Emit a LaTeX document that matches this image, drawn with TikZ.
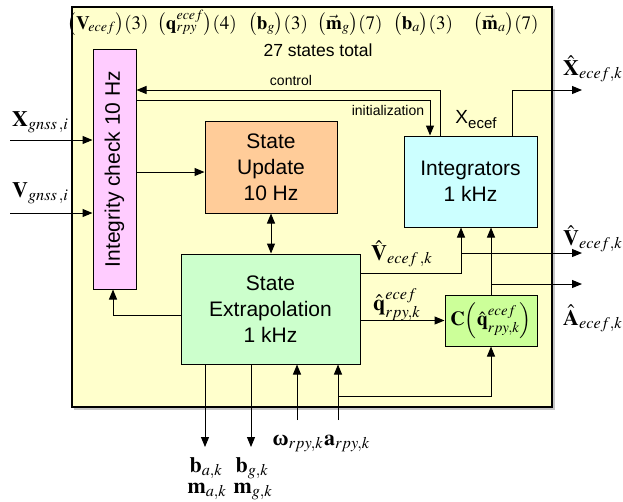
\documentclass[tikz,border=0pt]{standalone}
\usepackage{amsmath}
\usepackage{mathptmx}
\usepackage{bm}
\usepackage[no-math]{fontspec}
\setmainfont{Liberation Sans}
\newfontfamily\grkserif{Liberation Serif}
\usetikzlibrary{arrows.meta,calc}
\definecolor{outerY}{HTML}{FFFFCC}
\definecolor{pinkC}{HTML}{FFCCFF}
\definecolor{orangeC}{HTML}{FFCC99}
\definecolor{cyanC}{HTML}{CCFFFF}
\definecolor{greenC}{HTML}{CCFFCC}
\definecolor{limeC}{HTML}{CCFF99}
\tikzset{
  blk/.style={draw=black, line width=1pt, inner sep=0pt, align=center,
    font=\fontsize{21}{26}\selectfont},
  arr/.style={-{Triangle[length=10pt,width=8pt]}, line width=1pt},
  darr/.style={{Triangle[length=10pt,width=8pt]}-{Triangle[length=10pt,width=8pt]}, line width=1pt},
  mlab/.style={inner sep=0pt, anchor=base, font=\fontsize{22}{26}\selectfont},
  mlabw/.style={inner sep=0pt, anchor=base west, font=\fontsize{22}{26}\selectfont},
  toplab/.style={inner sep=0pt, anchor=base, font=\fontsize{19}{18}\selectfont},
  smalllab/.style={inner sep=0pt, font=\fontsize{14}{16}\selectfont},
}
\begin{document}
\begin{tikzpicture}[x=1pt,y=-1pt]
\useasboundingbox (0,0) rectangle (623,501);
% outer box with shadow
\fill[gray!45] (74,9) rectangle (554.5,409.5);
\draw[line width=2pt, fill=outerY] (72,7) rectangle (552,407);

% top row
\node[toplab] (t1) at (108,29) {$\bigl(\mathbf{V}_{\!ecef}\bigr)(3)$};
\node[toplab] (t2) at (197,29) {$\bigl(\mathbf{q}^{ecef}_{rpy}\bigr)(4)$};
\node[toplab] (t3) at (278,29) {$\bigl(\mathbf{b}_{g}\bigr)(3)$};
\node[toplab] (t4) at (350,29) {$\bigl(\vec{\mathbf{m}}_{g}\bigr)(7)$};
\node[toplab] (t5) at (423,29) {$\bigl(\mathbf{b}_{a}\bigr)(3)$};
\node[toplab] (t6) at (506,29) {$\bigl(\vec{\mathbf{m}}_{a}\bigr)(7)$};
\node[inner sep=0pt, font=\fontsize{17.5}{20}\selectfont] (tot) at (318,50) {27 states total};

% blocks
\node[blk, fill=pinkC, minimum width=43pt, minimum height=240pt] (ic) at (114.5,169)
  {\rotatebox{90}{Integrity check 10 Hz}};
\node[blk, fill=orangeC, minimum width=132pt, minimum height=92pt] (su) at (271,167)
  {State\\Update\\10 Hz};
\node[blk, fill=greenC, minimum width=179pt, minimum height=110pt] (se) at (270.5,309)
  {State\\Extrapolation\\1 kHz};
\node[blk, fill=cyanC, minimum width=133pt, minimum height=91pt] (integ) at (470.5,181.5)
  {Integrators\\1 kHz};
\node[blk, fill=limeC, minimum width=92pt, minimum height=51pt, font=\fontsize{20}{22}\selectfont] (cb) at (491,320.5)
  {$\mathbf{C}\Bigl(\hat{\mathbf{q}}^{ecef}_{rpy,k}\Bigr)$};

% free-end coordinates
\coordinate (xgin) at (10,140);
\coordinate (vgin) at (10,213);
\coordinate (xout) at (582,90);
\coordinate (vout) at (582,253);
\coordinate (aout) at (582,284);
\coordinate (bain) at (205,447);
\coordinate (bgin) at (251,447);
\coordinate (win) at (297,420);
\coordinate (ain) at (338,420);

% inputs
\draw[arr] (xgin) -- (xgin -| ic.west);
\draw[arr] (vgin) -- (vgin -| ic.west);
\node[mlabw] (xgl) at (12,126) {$\mathbf{X}_{gnss\,,i}$};
\node[mlabw] (vgl) at (12,197) {$\mathbf{V}_{gnss\,,i}$};

% control / initialization
\draw[arr] ([xshift=-30.5pt]integ.north) |- (ic.east |- 0,90);
\draw[arr] (ic.east |- 0,100.5) -| ([xshift=-40.5pt]integ.north);
\node[smalllab] (ctl) at (291,80) {control};
\node[smalllab] (ini) at (388,110) {initialization};
\node[inner sep=0pt] (xel) at (476,120) {{\fontsize{19}{20}\selectfont X}\raisebox{-5pt}{\fontsize{15}{16}\selectfont ecef}};

% integrity -> state update
\draw[arr] (ic.east |- 0,172) -- (su.west |- 0,172);
% state update <-> extrapolation
\draw[darr] (su.south) -- (su.south |- se.north);
% extrapolation -> integrity
\draw[arr] (se.west |- 0,315) -| ([xshift=-1.5pt]ic.south);

% outputs
\draw[arr] ([xshift=41.5pt]integ.north) |- (xout);
\node[mlabw] (xol) at (563,75) {$\hat{\mathbf{X}}_{ecef,k}$};
\draw[arr] (se.east |- 0,273) -| ([xshift=-9.5pt]integ.south);
\draw[arr] ([xshift=-9.5pt]integ.south |- vout) -- (vout);
\node[mlabw] (vol) at (563,245) {$\hat{\mathbf{V}}_{ecef,k}$};
\node[mlabw] (vil) at (371,260) {$\hat{\mathbf{V}}_{ecef\,,k}$};
\draw[arr] (se.east |- cb.west) -- (cb.west);
\node[mlabw] (qil) at (373,310) {$\hat{\mathbf{q}}^{ecef}_{rpy,k}$};
\draw[arr] (cb.north) -- (cb.north |- integ.south);
\draw[arr] (cb.north |- aout) -- (aout);
\node[mlabw] (aol) at (563,325) {$\hat{\mathbf{A}}_{ecef,k}$};

% bottom
\draw[arr] (bain |- se.south) -- (bain);
\draw[arr] (bgin |- se.south) -- (bgin);
\draw[arr] (win) -- (win |- se.south);
\draw[arr] (ain) -- (ain |- se.south);
\draw[arr] (ain |- 0,396) -| (cb.south);
\node[mlab] (bal) at (206,472) {$\mathbf{b}_{a,k}$};
\node[mlab] (mal) at (207,493) {$\mathbf{m}_{a,k}$};
\node[mlab] (bgl) at (252,472) {$\mathbf{b}_{g,k}$};
\node[mlab] (mgl) at (253,493) {$\mathbf{m}_{g,k}$};
\node[mlab] (wl) at (298,445) {$\text{\grkserif\bfseries ω}_{rpy,k}$};
\node[mlab] (al) at (347,445) {$\mathbf{a}_{rpy,k}$};
\end{tikzpicture}
\end{document}
